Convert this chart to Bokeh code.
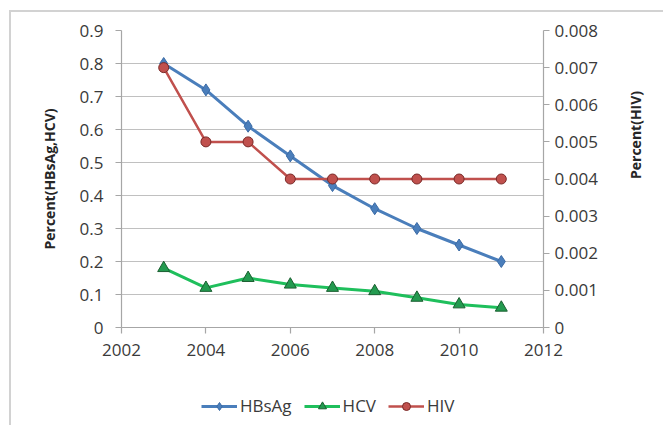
import math
from bokeh.plotting import figure
from bokeh.layouts import column
from bokeh.models import (Range1d, LinearAxis, FixedTicker, BasicTickFormatter,
                          Legend, LegendItem)
from bokeh.embed import file_html
from bokeh.resources import INLINE

years = [2003, 2004, 2005, 2006, 2007, 2008, 2009, 2010, 2011]
hbsag = [0.80, 0.72, 0.61, 0.52, 0.43, 0.36, 0.30, 0.25, 0.20]
hcv = [0.18, 0.12, 0.15, 0.13, 0.12, 0.11, 0.09, 0.07, 0.06]
hiv = [0.007, 0.005, 0.005, 0.004, 0.004, 0.004, 0.004, 0.004, 0.004]
x_ticks = [2002, 2004, 2006, 2008, 2010, 2012]
left_ticks = [0, 0.1, 0.2, 0.3, 0.4, 0.5, 0.6, 0.7, 0.8, 0.9]
right_ticks = [0, 0.001, 0.002, 0.003, 0.004, 0.005, 0.006, 0.007, 0.008]

FONT = "Open Sans"
TICK_COLOR = "#3A3A3A"
AXIS_COLOR = "#A6A6A6"
TICK_SIZE = "17px"

blue = "#4A7EBB"
green = "#1FBF5C"
red = "#C0504D"

W, H1, H2 = 652, 368, 45
p = figure(width=W, height=H1, output_backend="svg", toolbar_location=None,
           x_range=Range1d(2002, 2012), y_range=Range1d(0, 0.9),
           min_border_left=110, min_border_right=120, min_border_top=18,
           min_border_bottom=53)
p.extra_y_ranges = {"hiv": Range1d(0, 0.008)}
p.outline_line_color = None

p.xgrid.visible = False
p.ygrid.ticker = FixedTicker(ticks=left_ticks)
p.ygrid.grid_line_color = "#C0C0C0"
p.ygrid.grid_line_width = 1.2

def style_axis(ax):
    ax.axis_line_color = AXIS_COLOR
    ax.axis_line_width = 1.2
    ax.major_tick_line_color = AXIS_COLOR
    ax.major_tick_line_width = 1.2
    ax.major_tick_out = 6
    ax.major_tick_in = 0
    ax.minor_tick_line_color = None
    ax.major_label_text_font = FONT
    ax.major_label_text_font_size = TICK_SIZE
    ax.major_label_text_color = TICK_COLOR
    ax.axis_label_text_font = FONT
    ax.axis_label_text_font_size = "14px"
    ax.axis_label_text_font_style = "bold"
    ax.axis_label_text_color = "#262626"

p.xaxis.ticker = FixedTicker(ticks=x_ticks)
style_axis(p.xaxis[0])
p.xaxis.major_label_standoff = 10

p.yaxis.ticker = FixedTicker(ticks=left_ticks)
p.yaxis.axis_label = "Percent(HBsAg,HCV)"
style_axis(p.yaxis[0])
p.yaxis.major_label_standoff = 12
p.yaxis.axis_label_standoff = 18

ax2 = LinearAxis(y_range_name="hiv", ticker=FixedTicker(ticks=right_ticks),
                 formatter=BasicTickFormatter(use_scientific=False),
                 axis_label="Percent(HIV)")
style_axis(ax2)
ax2.major_label_standoff = 5
ax2.axis_label_standoff = 35
if "axis_label_orientation" in ax2.properties():
    ax2.axis_label_orientation = math.pi / 2
p.add_layout(ax2, "right")

def draw_series(fig):
    l1 = fig.line(years, hbsag, line_color=blue, line_width=3)
    m1 = fig.scatter(years, hbsag, marker="diamond", size=12, fill_color=blue,
                     line_color="#3A6AA5")
    l2 = fig.line(years, hcv, line_color=green, line_width=3)
    m2 = fig.scatter(years, hcv, marker="triangle", size=12, fill_color="#239A4F",
                     line_color="#1A5E30")
    l3 = fig.line(years, hiv, line_color=red, line_width=2.5, y_range_name="hiv")
    m3 = fig.scatter(years, hiv, marker="circle", size=10, fill_color=red,
                     line_color="#7A2A28", y_range_name="hiv")
    return [(l1, m1), (l2, m2), (l3, m3)]

draw_series(p)

# Legend strip below the chart (its series use the same data, outside the visible range)
q = figure(width=W, height=H2, output_backend="svg", toolbar_location=None,
           x_range=Range1d(0, 1), y_range=Range1d(0, 1), min_border=0)
q.extra_y_ranges = {"hiv": Range1d(0, 1)}
q.axis.visible = False
q.grid.visible = False
q.outline_line_color = None
pairs = draw_series(q)

legend = Legend(items=[LegendItem(label="HBsAg", renderers=list(pairs[0])),
                       LegendItem(label="HCV", renderers=list(pairs[1])),
                       LegendItem(label="HIV", renderers=list(pairs[2]))],
                orientation="horizontal", location=(80, 8),
                label_text_font=FONT, label_text_font_size=TICK_SIZE,
                label_text_color=TICK_COLOR, border_line_color=None,
                background_fill_alpha=0, glyph_width=36, spacing=12,
                label_standoff=3, padding=4, margin=0)
q.add_layout(legend, "center")

page = column(p, q, spacing=0,
              styles={"margin-left": "9px", "margin-top": "10px",
                      "border-left": "2px solid #d2d2d2", "border-top": "2px solid #d2d2d2"})

open("out.html", "w").write(file_html(page, INLINE))
